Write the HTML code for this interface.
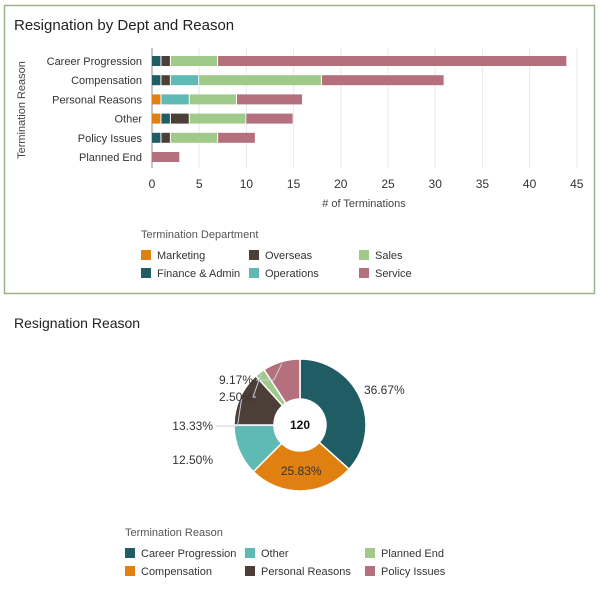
<!DOCTYPE html>
<html><head><meta charset="utf-8"><style>
body{margin:0;width:600px;height:588px;background:#fff;font-family:"Liberation Sans",sans-serif;overflow:hidden}
svg text{font-family:"Liberation Sans",sans-serif}
</style></head><body>
<svg id="s" width="600" height="588" xmlns="http://www.w3.org/2000/svg">
<rect x="4.5" y="5.5" width="590" height="288" fill="none" stroke="#9bb28a" stroke-width="1.5"/>
<text x="14" y="30" font-size="15" fill="#222">Resignation by Dept and Reason</text>
<g id="bars"></g>
<text x="0" y="0" transform="translate(25,110) rotate(-90)" text-anchor="middle" font-size="11" fill="#444">Termination Reason</text>
<text x="364" y="207" text-anchor="middle" font-size="11" fill="#444"># of Terminations</text>
<text x="141" y="238" font-size="11" fill="#555">Termination Department</text>
<g id="blegend"></g>
<text x="14" y="328" font-size="14" fill="#222">Resignation Reason</text>
<g id="pie"></g>
<text x="125" y="536" font-size="11" fill="#555">Termination Reason</text>
<g id="plegend"></g>
</svg>
<script>
const reasons=["Career Progression","Compensation","Personal Reasons","Other","Policy Issues","Planned End"];
const depts=["Marketing","Finance & Admin","Overseas","Operations","Sales","Service"];
const deptColors=["#e08010","#1f5c63","#4b3f37","#5fbab5","#9fca8a","#b5707e"];
const marketing=[0,0,1,1,0,0];
const finance=[1,1,0,1,1,0];
const overseas=[1,1,0,2,1,0];
const operations=[0,3,3,0,0,0];
const sales=[5,13,5,6,5,0];
const service=[37,13,7,5,4,3];
const xTicks=[0,5,10,15,20,25,30,35,40,45];
const pieLabels=["Career Progression","Compensation","Other","Personal Reasons","Planned End","Policy Issues"];
const pieValues=[44,31,15,16,3,11];
const pieColors=["#1f5c63","#e08010","#5fbab5","#4b3f37","#9fca8a","#b5707e"];
const NS="http://www.w3.org/2000/svg";
function mk(p,t,a){const e=document.createElementNS(NS,t);for(const k in a)e.setAttribute(k,a[k]);p.appendChild(e);return e;}
const x=v=>152+v*9.44, y=i=>61+i*19.2;
const bars=document.getElementById('bars');
xTicks.forEach(t=>{
 const l=mk(bars,'line',{x1:x(t),x2:x(t),y1:48,y2:168,stroke:t?'#e6e9ee':'#888','stroke-width':1});
 
 
 const tx=mk(bars,'text',{x:x(t),y:188,'text-anchor':'middle','font-size':12,fill:'#333'});tx.textContent=t;
 
 
});
const series=[marketing,finance,overseas,operations,sales,service];
reasons.forEach((r,i)=>{
 const tx=mk(bars,'text',{x:142,y:y(i)+4,'text-anchor':'end','font-size':11,fill:'#333'});tx.textContent=r;
 
 
 let acc=0;
 series.forEach((s,j)=>{if(!s[i])return;
  const b=mk(bars,'rect',{x:x(acc),y:y(i)-5,width:x(acc+s[i])-x(acc)-1,height:10,fill:deptColors[j]});
  
  
  acc+=s[i];});
});
const bl=document.getElementById('blegend');
const lp=[[141,256],[141,274],[249,256],[249,274],[359,256],[359,274]];
depts.forEach((d,i)=>{const [lx,ly]=lp[i];
 const r=mk(bl,'rect',{x:lx,y:ly-6,width:10,height:10,fill:deptColors[i]});
 
 
 const t=mk(bl,'text',{x:lx+16,y:ly+3,'font-size':11,fill:'#333'});t.textContent=d;
 
 });
const pie=document.getElementById('pie');
const cx=300,cy=425,R=66,r0=26;
const tot=pieValues.reduce((a,b)=>a+b,0);
let a0=0;
const lab=[[364,394,'start'],[253,436,'middle'],[213,464,'end'],[213,430,'end'],[253,401,'end'],[253,384,'end']];
pieValues.forEach((v,i)=>{
 const a1=a0+v/tot*2*Math.PI;
 const P=(rr,a)=>[cx+rr*Math.sin(a),cy-rr*Math.cos(a)];
 const [x1,y1]=P(R,a0),[x2,y2]=P(R,a1),[x3,y3]=P(r0,a1),[x4,y4]=P(r0,a0);
 const lg=(a1-a0)>Math.PI?1:0;
 const p=mk(pie,'path',{d:`M${x1},${y1}A${R},${R} 0 ${lg} 1 ${x2},${y2}L${x3},${y3}A${r0},${r0} 0 ${lg} 0 ${x4},${y4}Z`,fill:pieColors[i],stroke:'#fff','stroke-width':1.5});
 
 
 const pct=(v/tot*100).toFixed(2)+'%';
 let [lx,ly,an]=lab[i];
 if(i==1){const m=(a0+a1)/2;[lx,ly]=P(46,m);ly+=4;}
 const t=mk(pie,'text',{x:lx,y:ly,'text-anchor':an,'font-size':12,fill:'#333'});t.textContent=pct;
 
 
 if(i>=3){const m=(a0+a1)/2;const [ex,ey]=P(R-2,m);
  const pl=mk(pie,'polyline',{points:`${lx+3},${ly-4} ${i==3?ex-4:ex-8},${ly-4} ${ex},${ey}`,fill:'none',stroke:'#c8cfd8','stroke-width':1});
  
  }
 a0=a1;
});
const ct=mk(pie,'text',{x:cx,y:cy+4,'text-anchor':'middle','font-size':12,'font-weight':'bold',fill:'#111'});ct.textContent=tot;


const pl=document.getElementById('plegend');
const pp=[[125,554],[125,572],[245,554],[245,572],[365,554],[365,572]];
const order=[0,1,2,3,4,5];
pieLabels.forEach((d,i)=>{const [lx,ly]=pp[i];
 const r=mk(pl,'rect',{x:lx,y:ly-6,width:10,height:10,fill:pieColors[i]});
 
 
 const t=mk(pl,'text',{x:lx+16,y:ly+3,'font-size':11,fill:'#333'});t.textContent=d;
 
 });
</script>
</body></html>
